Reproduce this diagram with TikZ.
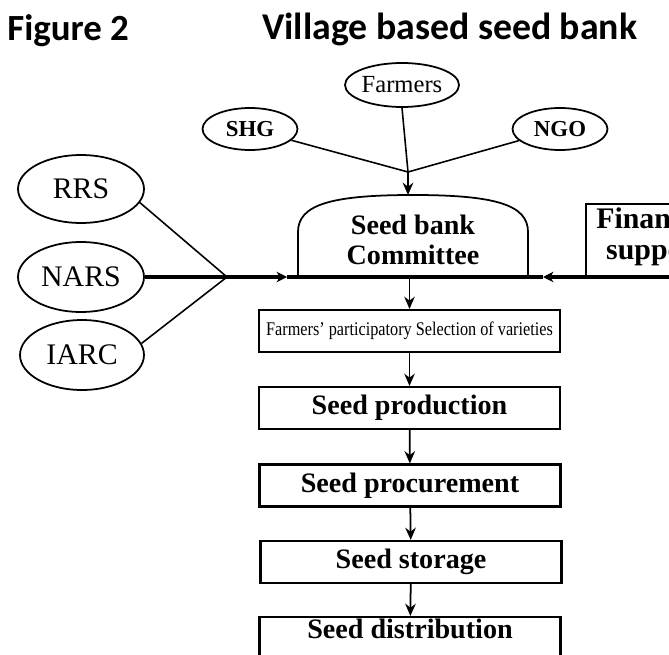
\documentclass[tikz,border=0pt]{standalone}
\usepackage{fontspec}
\setmainfont{Liberation Serif}
\newfontfamily\titlefont{Carlito}
\usepackage{graphicx}
\usetikzlibrary{shapes.geometric, arrows.meta}
\tikzset{
  actor/.style={ellipse, draw, line width=1pt, inner sep=0pt},
  stepbox/.style={rectangle, draw, line width=1.2pt, minimum width=6.02cm, minimum height=0.84cm, inner sep=0pt, font=\fontsize{16}{17}\selectfont\bfseries},
  link/.style={line width=0.9pt},
  flow/.style={line width=1pt, -{Stealth[length=7pt, width=6pt]}},
  mainline/.style={line width=2pt},
}

\begin{document}
\begin{tikzpicture}[x=0.02cm, y=-0.02cm]
	% Frame, title and partners:
	\clip (0, 0) rectangle (669, 655);
	\fill[white] (0, 0) rectangle (669, 655);
	\node[anchor=base west, inner sep=0pt, font=\titlefont\fontsize{21}{21}\selectfont\bfseries] (figno) at (7, 41) {Figure 2};
	\node[anchor=base west, inner sep=0pt, font=\titlefont\fontsize{21.5}{21.5}\selectfont\bfseries] (title) at (262, 40) {Village based seed bank};
	\node[actor, minimum width=1.8cm, minimum height=0.88cm, font=\fontsize{14}{14}\selectfont] (farmers) at (402, 85) {Farmers};
	\node[actor, minimum width=1.9cm, minimum height=0.84cm, font=\fontsize{13}{13}\selectfont\bfseries] (shg) at (250, 129) {SHG};
	\node[actor, minimum width=1.9cm, minimum height=0.84cm, font=\fontsize{13}{13}\selectfont\bfseries] (ngo) at (560, 129) {NGO};
	\node[actor, minimum width=2.52cm, minimum height=1.36cm, font=\fontsize{17}{17}\selectfont] (rrs) at (81, 189) {RRS};
	\node[actor, minimum width=2.52cm, minimum height=1.4cm, font=\fontsize{17}{17}\selectfont] (nars) at (81, 277) {NARS};
	\node[actor, minimum width=2.48cm, minimum height=1.4cm, font=\fontsize{17}{17}\selectfont] (iarc) at (82, 355) {IARC};
	\coordinate (jtop) at (408, 172);
	\coordinate (jleft) at (227, 277);
	\coordinate (ctop) at (408, 195);
	\coordinate (cleft) at (287, 277);
	\coordinate (cright) at (543, 277);
	\coordinate (cbot) at (409.5, 277);
	\coordinate (rim) at (690, 277);
	\draw[link] (shg) -- (jtop);
	\draw[link] (ngo) -- (jtop);
	\draw[link] (farmers.south) -- (jtop);
	\draw[flow] (jtop) -- (ctop);
	\draw[link] (rrs.-13) -- (jleft);
	\draw[link] (iarc.11) -- (jleft);
	% Committee and finance:
	\draw[line width=1pt] (298, 277) -- (298, 232) .. controls (298, 205) and (330, 195) .. (413, 195) .. controls (496, 195) and (528, 205) .. (528, 232) -- (528, 277);
	\node[align=center, inner sep=0pt, font=\fontsize{16}{17}\selectfont\bfseries] (committee) at (413, 240) {Seed bank\\Committee};
	\draw[line width=1pt] (586, 277) -- (586, 204) -- (690, 204);
	\node[align=center, inner sep=0pt, font=\fontsize{17}{18}\selectfont\bfseries] (finance) at (656, 237) {Financial\\support};
	\draw[mainline, -{Stealth[length=6pt, width=6pt, line width=0.6pt]}] (nars.east) -- (cleft);
	\draw[mainline] (cleft) -- (cright);
	\draw[mainline, -{Stealth[length=6pt, width=6pt, line width=0.6pt]}] (rim) -- (cright);
	% Steps:
	\node[stepbox] (select) at (409.5, 331) {\scalebox{0.84}[1]{\fontsize{11}{11}\selectfont\mdseries Farmers' participatory Selection of varieties}};
	\node[stepbox] (produce) at (409.5, 408) {Seed production};
	\node[stepbox] (procure) at (410, 485.5) {Seed procurement};
	\node[stepbox] (store) at (411, 562) {Seed storage};
	\node[stepbox, anchor=north, minimum height=0cm, inner ysep=1pt, text depth=0.6cm] (distribute) at (410, 616) {Seed distribution};
	\draw[flow] (cbot) -- (select);
	\draw[flow] (select) -- (produce);
	\draw[flow] (produce) -- (procure);
	\draw[flow] (procure) -- (store);
	\draw[flow] (store) -- (distribute);
\end{tikzpicture}
\end{document}
